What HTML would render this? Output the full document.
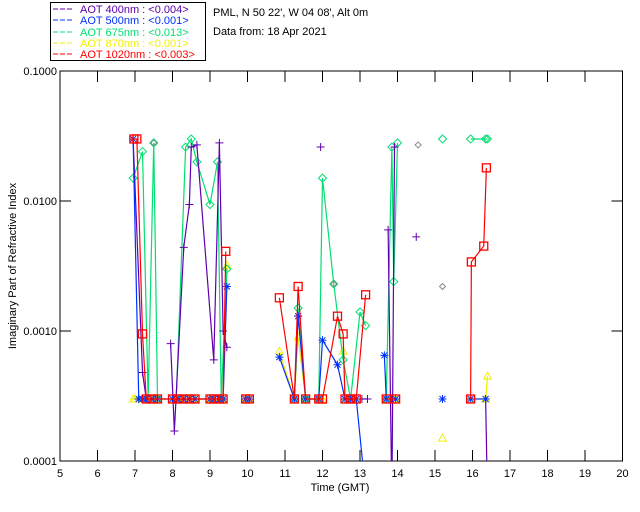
<!DOCTYPE html>
<html><head><meta charset="utf-8"><style>
body{margin:0;background:#fff;}
svg{display:block;font-family:"Liberation Sans",sans-serif;}
</style></head><body>
<svg id="c" width="640" height="512" viewBox="0 0 640 512" xmlns="http://www.w3.org/2000/svg">
<rect x="0" y="0" width="640" height="512" fill="#fff"/>
<g>
<rect x="50.5" y="2.5" width="155" height="58" fill="none" stroke="#000"/>
<g font-size="11">
<line x1="53" y1="9" x2="74" y2="9" stroke="#6000b0" stroke-dasharray="5,2"/><text x="80" y="13" fill="#6000b0">AOT  400nm : &lt;0.004&gt;</text>
<line x1="53" y1="20" x2="74" y2="20" stroke="#0030ff" stroke-dasharray="5,2"/><text x="80" y="24" fill="#0030ff">AOT  500nm : &lt;0.001&gt;</text>
<line x1="53" y1="32" x2="74" y2="32" stroke="#00e070" stroke-dasharray="5,2"/><text x="80" y="36" fill="#00e070">AOT  675nm : &lt;0.013&gt;</text>
<line x1="53" y1="43" x2="74" y2="43" stroke="#f0f000" stroke-dasharray="5,2"/><text x="80" y="47" fill="#f0f000">AOT  870nm : &lt;0.001&gt;</text>
<line x1="53" y1="54" x2="74" y2="54" stroke="#ff0000" stroke-dasharray="5,2"/><text x="80" y="58" fill="#ff0000">AOT 1020nm : &lt;0.003&gt;</text>
</g></g>
<text x="213" y="16" font-size="11">PML, N 50 22', W 04 08', Alt 0m</text>
<text x="213" y="35" font-size="11">Data from: 18 Apr 2021</text>
<g id="axes"></g>
<g id="marks"></g>
<text x="340" y="491" font-size="11" text-anchor="middle">Time (GMT)</text>
<text x="0" y="0" font-size="11" text-anchor="middle" transform="translate(16,266) rotate(-90)">Imaginary Part of Refractive Index</text>
</svg>
<script>
const xTicks=[5,6,7,8,9,10,11,12,13,14,15,16,17,18,19,20];
const yTicks=[0.1,0.01,0.001,0.0001];
const yTickLabels=["0.1000","0.0100","0.0010","0.0001"];
const B=0.0003;
const t400=[6.95,7.2,7.3,7.95,8.05,8.3,8.45,8.5,8.65,9.1,9.25,9.35,9.45,11.35,11.95,13.05,13.2,13.75,13.85,13.92,14.5,16.35,16.4];
const v400=[0.03,0.00048,B,0.0008,0.00017,0.0044,0.0094,0.026,0.027,0.0006,0.028,0.001,0.00075,0.0013,0.026,B,B,0.006,0.00005,0.026,0.0053,B,0.00005];
const t500=[6.95,7.1,7.2,7.3,7.45,7.6,8.0,8.15,8.3,8.45,8.6,9.0,9.1,9.25,9.35,9.45,9.95,10.05,10.85,11.25,11.35,11.55,11.9,12.0,12.4,12.6,12.75,12.9,13.1,13.65,13.7,13.95,15.2,15.95,16.35];
const v500=[0.03,B,B,B,B,B,B,B,B,B,B,B,B,B,B,0.0022,B,B,0.00063,B,0.0013,B,B,0.00085,0.00055,B,B,B,0.00008,0.00065,B,B,B,B,B];
const t675=[6.95,7.2,7.35,7.5,7.6,8.1,8.35,8.5,8.65,9.0,9.2,9.3,9.45,11.25,11.35,11.55,11.9,12.0,12.3,12.55,12.75,13.0,13.15,13.7,13.85,13.9,14.0,15.2,15.95,16.35,16.4];
const v675=[0.015,0.024,B,0.028,B,B,0.026,0.03,0.02,0.0094,0.02,B,0.003,B,0.0015,B,B,0.015,0.0023,0.0006,B,0.0014,0.0011,B,0.026,0.0024,0.028,0.03,0.03,0.03,0.03];
const t870=[6.95,7.0,7.1,7.3,7.45,7.6,8.0,8.15,8.3,8.45,8.6,9.0,9.1,9.25,9.35,9.45,9.95,10.05,10.85,11.25,11.35,11.55,11.9,12.0,12.55,12.6,12.75,12.9,13.7,13.95,15.2,15.95,16.35,16.4];
const v870=[B,B,B,B,B,B,B,B,B,B,B,B,B,B,B,0.0032,B,B,0.0007,B,0.0009,B,B,B,0.0007,B,B,B,B,B,0.00015,B,B,0.00045];
const t1020=[6.97,7.05,7.2,7.3,7.45,7.6,8.0,8.15,8.3,8.45,8.6,9.0,9.1,9.25,9.35,9.42,9.95,10.05,10.85,11.25,11.35,11.55,11.9,12.0,12.4,12.55,12.6,12.75,12.9,13.15,13.7,13.95,15.95,15.97,16.3,16.37];
const v1020=[0.03,0.03,0.00095,B,B,B,B,B,B,B,B,B,B,B,B,0.0041,B,B,0.0018,B,0.0022,B,B,B,0.0013,0.00095,B,B,B,0.0019,B,B,B,0.0034,0.0045,0.018];
const tGrey=[7.5,12.3,14.55,15.2];
const vGrey=[0.028,0.0023,0.027,0.0022];

const X0=60,X1=622.5,Y0=71,Y1=461;
const xs=t=>X0+(t-5)*(X1-X0)/15;
const ys=v=>Y0+(-1-Math.log10(v))*(Y1-Y0)/3;
const NS="http://www.w3.org/2000/svg";
function mk(tag,attrs,parent){const e=document.createElementNS(NS,tag);for(const k in attrs)e.setAttribute(k,attrs[k]);parent.appendChild(e);return e;}
const ax=document.getElementById('axes'),mg=document.getElementById('marks');
const frame=mk('rect',{x:X0,y:Y0,width:X1-X0,height:Y1-Y0,fill:'none',stroke:'#000'},ax);


xTicks.forEach(t=>{
  mk('line',{x1:xs(t),y1:Y1,x2:xs(t),y2:Y1-11,stroke:'#000'},ax);
  mk('line',{x1:xs(t),y1:Y0,x2:xs(t),y2:Y0+11,stroke:'#000'},ax);
  const tx=mk('text',{x:xs(t),y:Y1+16,'font-size':11,'text-anchor':'middle'},ax);
  tx.textContent=t;
  
  
});
yTicks.forEach((v,i)=>{
  mk('line',{x1:X0,y1:ys(v),x2:X0+11,y2:ys(v),stroke:'#000'},ax);
  mk('line',{x1:X1,y1:ys(v),x2:X1-11,y2:ys(v),stroke:'#000'},ax);
  const tx=mk('text',{x:X0-3,y:ys(v)+4,'font-size':11,'text-anchor':'end'},ax);
  tx.textContent=yTickLabels[i];
  
  
});
const clip=mk('clipPath',{id:'cp'},mg);mk('rect',{x:X0,y:Y0,width:X1-X0,height:Y1-Y0},clip);
function series(ts,vs,col,shape,name){
  const g=mk('g',{'clip-path':'url(#cp)'},mg);
  
  
  let seg=[];
  const flush=()=>{if(seg.length>1)mk('polyline',{points:seg.join(' '),fill:'none',stroke:col,'stroke-width':1.2},g);seg=[];};
  ts.forEach((t,i)=>{if(i>0&&t-ts[i-1]>0.45)flush();seg.push(xs(t)+','+ys(vs[i]));});
  flush();
  ts.forEach((t,i)=>{
    const x=xs(t),y=ys(vs[i]);let m;
    if(shape==='plus'){m=mk('path',{d:`M${x-4},${y}H${x+4}M${x},${y-4}V${y+4}`,stroke:col,fill:'none'},g);}
    else if(shape==='star'){m=mk('path',{d:`M${x-4},${y}H${x+4}M${x},${y-4}V${y+4}M${x-3},${y-3}L${x+3},${y+3}M${x-3},${y+3}L${x+3},${y-3}`,stroke:col,fill:'none'},g);}
    else if(shape==='diamond'){m=mk('path',{d:`M${x},${y-4}L${x+4},${y}L${x},${y+4}L${x-4},${y}Z`,stroke:col,fill:'none'},g);}
    else if(shape==='tri'){m=mk('path',{d:`M${x},${y-4}L${x+4},${y+3}L${x-4},${y+3}Z`,stroke:col,fill:'none'},g);}
    else {m=mk('rect',{x:x-4,y:y-4,width:8,height:8,stroke:col,fill:'none','stroke-width':1.3},g);}
    
    
  });
}
series(t870,v870,'#f0f000','tri','series-870nm');
series(t675,v675,'#00e070','diamond','series-675nm');
series(t400,v400,'#6000b0','plus','series-400nm');
series(t500,v500,'#0030ff','star','series-500nm');
series(t1020,v1020,'#ff0000','square','series-1020nm');
const gg=mk('g',{},mg);


tGrey.forEach((t,i)=>{const x=xs(t),y=ys(vGrey[i]);
  const m=mk('path',{d:`M${x},${y-3}L${x+3},${y}L${x},${y+3}L${x-3},${y}Z`,stroke:'#888',fill:'none'},gg);
  
  });
</script>
</body></html>
